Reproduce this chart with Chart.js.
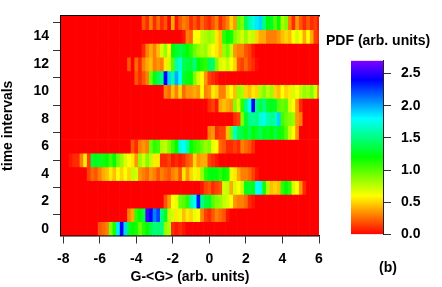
<!DOCTYPE html>
<html lang="en">
<head>
<meta charset="UTF-8">
<title>PDF heatmap</title>
<script src="https://cdn.jsdelivr.net/npm/chart.js"></script>
<style>
    html, body { margin: 0; padding: 0; background: #fff; }
    body { width: 442px; height: 287px; position: relative; overflow: hidden; }
    canvas { position: absolute; top: 0; }
    #heat { left: 0; }
    #bar { left: 316px; }
    .label { position: absolute; font: bold 14px "Liberation Sans", Arial, sans-serif; color: #000; white-space: nowrap; line-height: 16px; }
    #pdf { left: 326px; top: 32px; }
    #panel { left: 379px; top: 259px; }
</style>
</head>
<body>
<canvas id="heat" width="335" height="287"></canvas>
<canvas id="bar" width="126" height="287"></canvas>
<div class="label" id="pdf">PDF (arb. units)</div>
<div class="label" id="panel">(b)</div>

<script>
    // one list per time interval, read left to right in steps of 0.2 on the x axis
    const row0 = [0,0,0,0,0, 0,0,0,0,0, .2,.25,.3,.9,1.15, 1.85,2.4,1.9,1.3,1.2, 1.15,.95,1.1,1.2,1.35, 1.5,1.45,1.5,.85,.8, .1,.05,.1,.05,0];
    const row1 = [0,0,0,0,0, 0,0,0,0,0, 0,0,0,0,0, 0,0,0,.3,.4, 1.1,1.2,1.35,2.55,2.4, 2.1,2.25,1.5,1.3,.75, .7,.55,.65,.45,.55, .5,.65,.6,.3,.15, .1,.2,.3,.25,.2, .05];
    const row2 = [0,0,0,0,0, 0,0,0,0,0, 0,0,0,0,0, 0,0,0,0,0, 0,0,0,0,0, 0,0,0,.2,.35, .6,.65,.95,1,1.1, 1.6,1.8,2.35,1.5,1.35, 1.3,1,.9,.85,.75, .7,.6,.35,.3,.3, .25,.1,.05];
    const row3 = [0,0,0,0,0, 0,0,0,0,0, 0,0,0,0,0, 0,0,0,0,0, 0,0,0,0,0, 0,0,0,0,0, 0,0,0,0,0, 0,0,0,.05,.15, .2,.1,.15,.2,.7, .75,.4,.7,.6,.75, 1.25,1.3,1.25,1.8,1.75, 1.15,.8,.45,.5,.45, 1.1,1.2,1.1,.7,.6, .35,.1];
    const row4 = [0,0,0,0,0, 0,0,.15,.25,.2, .3,.4,.45,.55,.45, .6,.5,.6,.5,.75, .7,.35,.3,.25,.35, .3,.2,.3,.25,.2, .3,.35,.2,.55,.35, .5,.65,.55,.85,1.1, 1.25,1.2,1.25,1.1,1.2, 1.15,.65,.55,.4,.3, .3,.25,.15,.05];
    const row5 = [0,0,.05,.1,.1, .3,.55,.15,1.3,1.25, 1.3,1.15,1.2,1.05,1.2, .95,.85,.7,.6,.55, .35,.85,.7,.9,.75, .55,.55,.1,.1,.15, .05,.1,.05,.1,.2, .25,.5,.35,.4,.4, .15,.1,.05];
    const row6 = [0,0,0,0,0, 0,0,0,0,0, 0,0,0,0,0, 0,0,0,0,.2, .1,.3,.35,.3,.95, 1.1,1.05,.8,.75,.9, 1.05,1.2,1.7,1.8,1.6, 1.2,1.1,1.05,.95,.85, .9,.65,.6,.25,.2, .1,.1,.15,.1,.3, .25,.2,.1];
    const row7 = [0,0,0,0,0, 0,0,0,0,0, 0,0,0,0,0, 0,0,0,0,0, 0,0,0,0,0, 0,0,0,0,0, 0,0,0,0,0, 0,0,0,0,0, .3,.35,.1,.15,.15, .45,.95,1.7,1.4,1.35, 1.25,1.4,1.2,1.3,1.4, 1.25,1.3,1.2,1.35,1.25, 1.15,1,.75,.6,.35];
    const row8 = [0,0,0,0,0, 0,0,0,0,0, 0,0,0,0,0, 0,0,0,0,0, 0,0,0,0,0, 0,0,0,0,0, 0,0,0,0,0, 0,0,0,0,0, 0,0,0,0,0, 0,0,.1,.15,.9, 1.3,1.5,1.55,1.5,1.7, 1.75,1.6,1.55,1.6,1.9, 1.05,.95,.9,.85,.35, .3];
    const row9 = [0,0,0,0,0, 0,0,0,0,0, 0,0,0,0,0, 0,0,0,0,0, 0,0,0,0,0, 0,0,0,0,0, 0,0,0,0,0, 0,0,0,0,0, .1,.15,.05,.4,.45, .4,.35,.9,.7,1.1, 1.5,1.8,2.4,1.5,1.35, 1.5,1.3,1.25,1.3,1, .95,1,.7,.6,.35, .1];
    const row10 = [0,0,0,0,0, 0,0,0,0,0, 0,0,0,0,0, 0,0,0,0,0, 0,0,0,0,0, 0,0,0,.3,.25, .45,.3,.5,.25,.35, .35,.4,.35,.6,.3, .35,.55,.5,.3,.3, .5,.6,.45,.85,.8, .5,.45,.55,.5,.8, .9,.75,.85,.5,.45, .6,.5,.55,.7,.6, .75,.85,.8,.9,.7, .3];
    const row11 = [0,0,0,0,0, 0,0,0,0,0, 0,0,0,0,0, 0,0,0,0,0, .2,.1,.2,.3,.95, 1.25,1.4,1.5,2.4,1.9, 1.6,2,1.8,1.3,1.25, 1.2,.9,.7,.6,.35, .15,.1,.05];
    const row12 = [0,0,0,0,0, 0,0,0,0,0, 0,0,0,0,0, 0,0,0,.2,0, .25,.1,.3,.4,.45, .3,.35,.3,.55,.7, 1,1.6,1.7,1.4,1.35, 1.3,1.5,1.2,1.15,1.1, 1.4,1.45,.9,.7,.65, .75,.6,.5,.2,.15, .25,.15,.1,.03];
    const row13 = [0,0,0,0,0, 0,0,0,0,0, 0,0,0,0,0, 0,0,0,0,0, 0,0,.1,.3,.4, .3,.45,.7,.85,.6, 1.2,1.3,1.35,1.3,1.2, 1.1,.95,.85,.8,.85, .7,.6,.55,.45,.85, .95,.75,.35,.3,.3, .2,.15,.05];
    const row14 = [0,0,0,0,0, 0,0,0,0,0, 0,0,0,0,0, 0,0,0,0,0, 0,0,0,0,0, 0,0,0,0,0, 0,0,0,.05,.3, .25,.6,.6,.75,.8, .85,.8,.55,.45,1.1, 1.2,1.15,.9,.8,.7, .85,.7,.75,.5,.4, .4,.3,.3,.3,.35, .45,.5,.45,.6,.7, .6,.4,.6,.4,.15, .1];
    const row15 = [0,0,0,0,0, 0,0,0,0,0, 0,0,0,0,0, 0,0,0,0,0, 0,0,.2,.1,.3, .1,.25,.1,.2,.02, .4,.05,.2,.3,.25, .1,.2,.1,.25,.15, .1,.2,.3,.1,.2, .3,.5,.35,1,.9, 1.4,1.6,1.7,1.85,1.9, 1.5,1.2,1.3,1,1.2, .8,.9,.3,.1,.35, .2,.1,.2,.1,.15, .05];
    const rows = [row0, row1, row2, row3, row4, row5, row6, row7, row8, row9, row10, row11, row12, row13, row14, row15];

    const rowLabels = ['0','1','2','3','4','5','6','7','8','9','10','11','12','13','14','15'];
    const xTicks = [-8, -6, -4, -2, 0, 2, 4, 6];
    const barTicks = [0, 0.5, 1, 1.5, 2, 2.5];
    const barRange = [0, 2.7];
    const barStops = [0, 0.6, 1.2, 1.8, 2.4, 2.7];

    const xMin = -8.12;
    const binWidth = 0.2;
    const binCount = 71;
    const font = { family: '"Liberation Sans", Arial, sans-serif', size: 14, weight: 'bold' };

    // rainbow: hue runs 0..270 over 0..2.7
    function colorOf(v) {
        return `hsl(${v * 100}, 100%, 50%)`;
    }

    const datasets = [];
    for (let b = 0; b < binCount; b++) {
        const left = xMin + b * binWidth;
        datasets.push({
            data: rows.map(() => [left, left + binWidth]),
            backgroundColor: rows.map(r => colorOf(r[b] || 0))
        });
    }

    new Chart(document.getElementById('heat'), {
        type: 'bar',
        data: { labels: rowLabels, datasets: datasets },
        options: {
            indexAxis: 'y',
            responsive: false,
            animation: false,
            events: [],
            layout: { padding: { top: 16, right: 16, left: 0, bottom: 0 } },
            plugins: { legend: { display: false }, tooltip: { enabled: false } },
            datasets: { bar: { grouped: false, barPercentage: 1, categoryPercentage: 1, borderWidth: 0 } },
            scales: {
                x: {
                    type: 'linear',
                    min: xMin,
                    max: 6,
                    afterBuildTicks: s => { s.ticks = xTicks.map(v => ({ value: v })); },
                    afterFit: s => { s.height = 51.5; },
                    border: { color: '#000', width: 1.5 },
                    grid: { drawOnChartArea: false, tickLength: 8, tickColor: '#333', tickWidth: 1 },
                    ticks: { color: '#000', font: font, padding: 7, maxRotation: 0 },
                    title: { display: true, text: 'G-<G> (arb. units)', color: '#000', font: font, padding: { top: 4, bottom: 1 } }
                },
                xTop: {
                    type: 'linear',
                    position: 'top',
                    min: xMin,
                    max: 6,
                    afterFit: s => { s.height = 0; },
                    border: { color: '#000', width: 1.5 },
                    grid: { display: false },
                    ticks: { display: false }
                },
                y: {
                    type: 'category',
                    reverse: true,
                    afterBuildTicks: s => { s.ticks = s.ticks.filter(t => t.value % 2 === 0); },
                    afterFit: s => { s.width = 61; },
                    border: { color: '#000', width: 1.5 },
                    grid: { drawOnChartArea: false, tickLength: 8, tickColor: '#333', tickWidth: 1 },
                    ticks: { color: '#000', font: font, padding: 4, autoSkip: false },
                    title: { display: true, text: 'time intervals', color: '#000', font: font, padding: { top: 0, bottom: 0 } }
                }
            }
        }
    });

    new Chart(document.getElementById('bar'), {
        type: 'bar',
        data: {
            labels: ['PDF'],
            datasets: [{
                data: [barRange],
                barPercentage: 1,
                categoryPercentage: 1,
                borderWidth: 0,
                backgroundColor: ctx => {
                    const area = ctx.chart.chartArea;
                    if (!area) return '#fff';
                    const g = ctx.chart.ctx.createLinearGradient(0, area.bottom, 0, area.top);
                    barStops.forEach(v => g.addColorStop(v / barRange[1], colorOf(v)));
                    return g;
                }
            }]
        },
        options: {
            responsive: false,
            animation: false,
            events: [],
            layout: { padding: { top: 60.7, right: 0, left: 35, bottom: 52.5 } },
            plugins: { legend: { display: false }, tooltip: { enabled: false } },
            scales: {
                x: { display: false },
                y: {
                    position: 'right',
                    min: barRange[0],
                    max: barRange[1],
                    afterBuildTicks: s => { s.ticks = barTicks.map(v => ({ value: v })); },
                    afterFit: s => { s.width = 59; },
                    border: { color: '#222', width: 1 },
                    grid: { drawOnChartArea: false, tickLength: 8, tickColor: '#333', tickWidth: 1 },
                    ticks: { color: '#000', font: font, padding: 10, callback: v => v.toFixed(1) }
                }
            }
        }
    });
</script>
</body>
</html>
